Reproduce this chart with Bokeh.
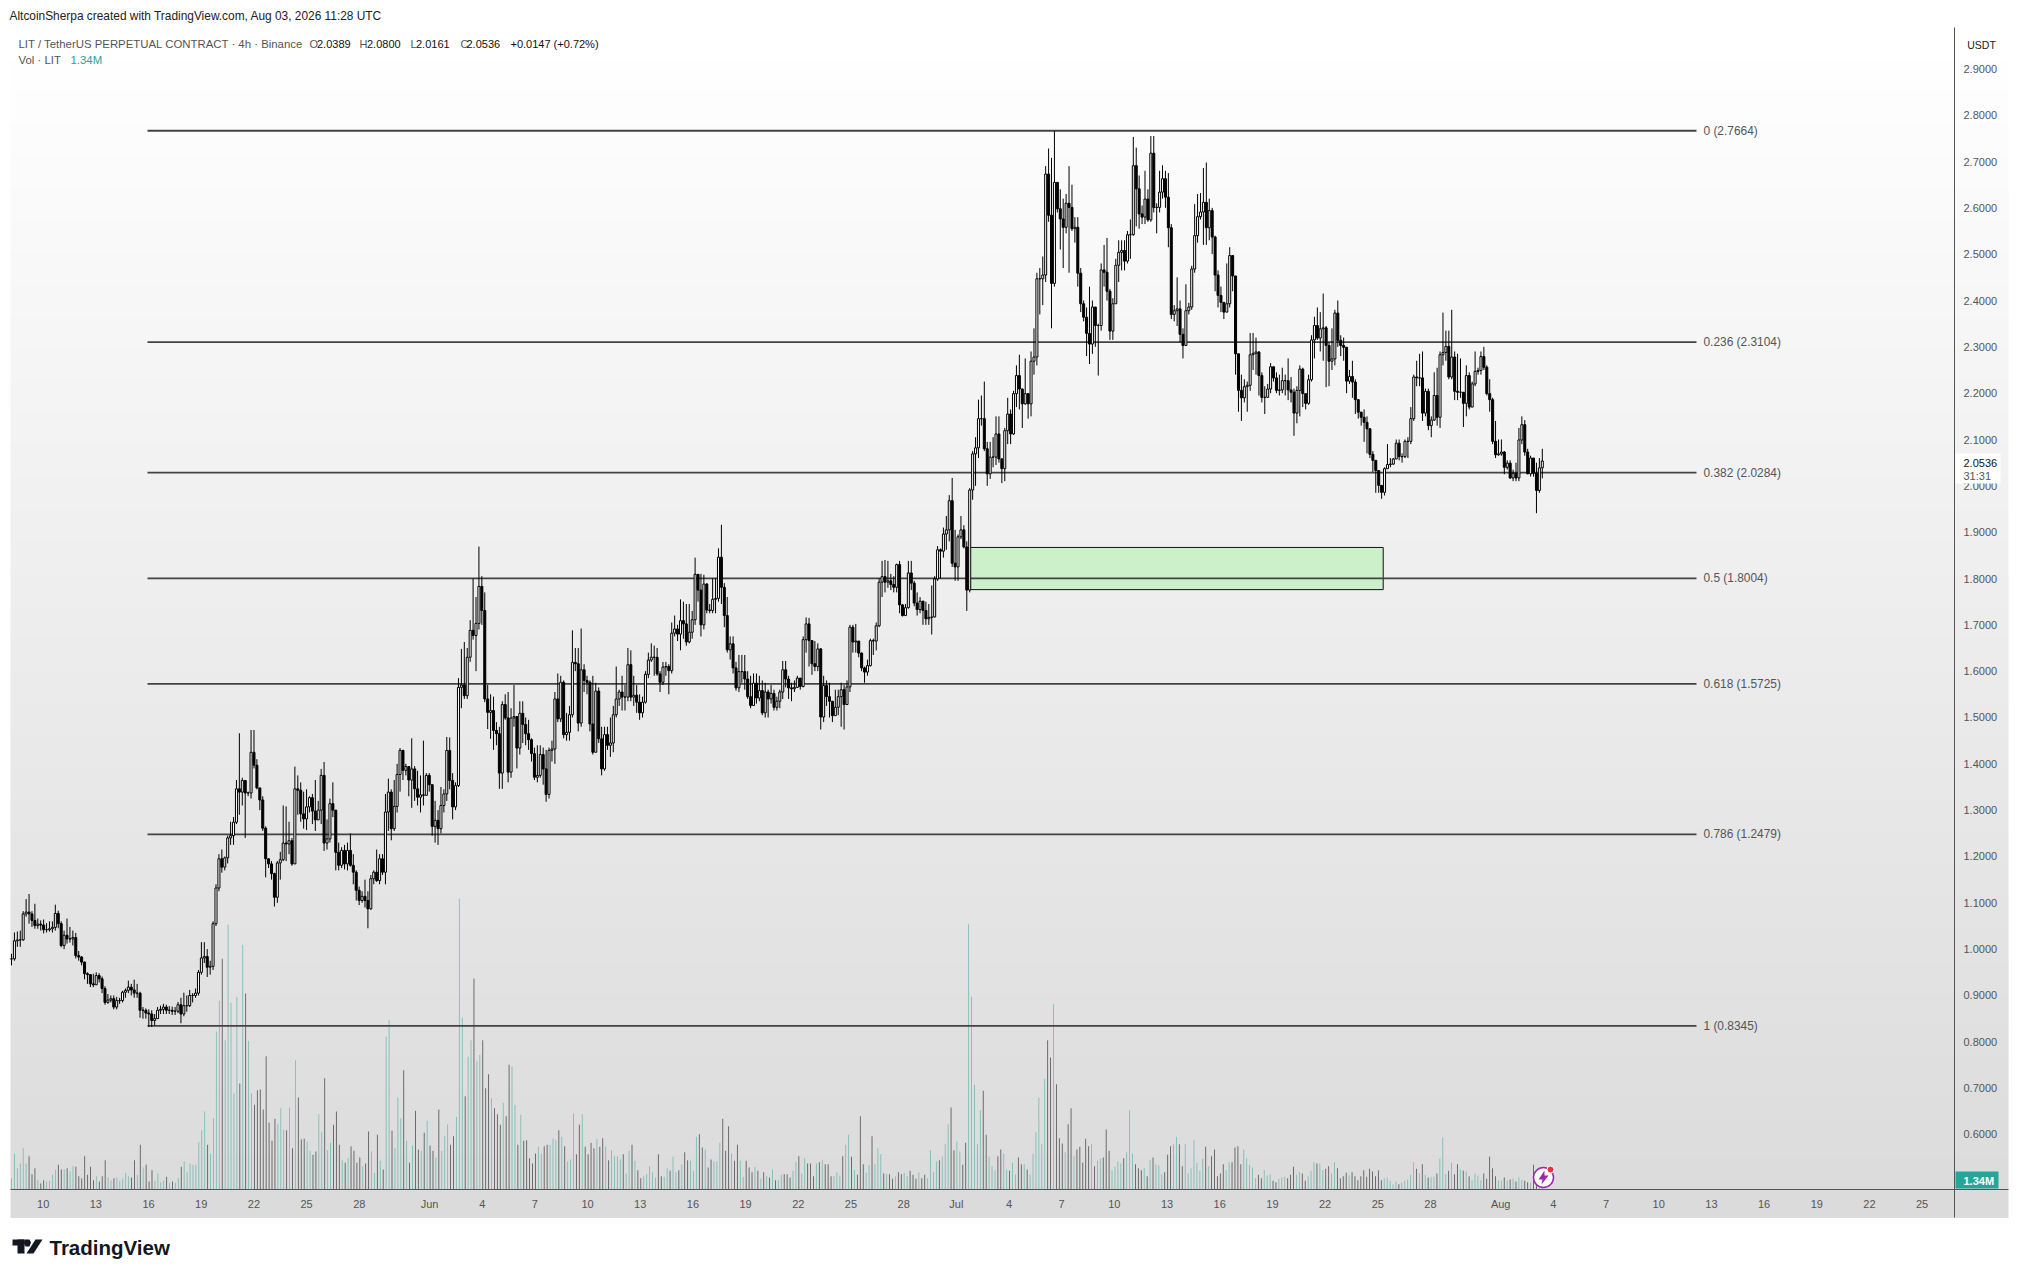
import numpy as np
from bokeh.plotting import figure
from bokeh.embed import file_html
from bokeh.resources import INLINE
from bokeh.core.properties import value
from bokeh.models import FixedTicker, NumeralTickFormatter, Range1d

close = [
 .979,1.018,1.020,1.020,1.076,
 1.080,1.076,1.062,1.051,1.054,1.052,
 1.042,1.042,1.044,1.047,1.077,1.055,
 1.008,1.030,1.022,1.022,1.025,.986,
 .983,.972,.947,.945,.925,.923,
 .943,.936,.915,.885,.890,.893,
 .875,.889,.889,.907,.911,.918,
 .912,.905,.905,.868,.868,.862,
 .860,.846,.850,.868,.870,.875,
 .868,.868,.866,.866,.880,.860,
 .878,.878,.900,.900,.905,.950,
 .981,.984,.961,.963,1.055,1.132,
 1.195,1.177,1.197,1.240,1.245,1.274,
 1.346,1.339,1.364,1.337,1.337,1.425,
 1.397,1.348,1.322,1.261,1.195,1.184,
 1.163,1.112,1.186,1.193,1.229,1.227,
 1.234,1.184,1.346,1.343,1.292,1.281,
 1.307,1.327,1.298,1.279,1.300,1.375,1.229,
 1.238,1.314,1.300,1.209,1.181,1.213,
 1.184,1.213,1.181,1.166,1.127,1.105,
 1.114,1.105,1.087,1.152,1.166,1.148,
 1.195,1.166,1.296,1.339,1.260,1.308,
 1.377,1.429,1.386,1.394,1.365,1.389,
 1.346,1.328,1.333,1.332,1.375,1.355,
 1.265,1.278,1.260,1.310,1.335,1.429,
 1.364,1.307,1.353,1.565,1.570,1.547,
 1.630,1.688,1.677,1.703,1.783,1.731,
 1.540,1.511,1.515,1.472,1.465,1.380,
 1.528,1.499,1.382,1.499,1.502,1.434,
 1.509,1.485,1.465,1.452,1.422,1.371,
 1.375,1.420,1.389,1.334,1.429,1.432,
 1.540,1.497,1.576,1.463,1.468,1.506,
 1.619,1.616,1.488,1.603,1.580,1.576,
 1.486,1.425,1.557,1.454,1.389,1.463,
 1.440,1.445,1.506,1.540,1.555,1.544,
 1.544,1.614,1.544,1.548,1.533,1.510,
 1.533,1.593,1.624,1.630,1.630,1.594,
 1.576,1.609,1.610,1.601,1.682,1.691,
 1.680,1.709,1.702,1.663,1.684,1.711,
 1.809,1.775,1.700,1.788,1.732,1.731,
 1.755,1.757,1.846,1.781,1.720,1.646,
 1.659,1.607,1.564,1.599,1.599,1.583,
 1.545,1.526,1.574,1.542,1.558,1.510,
 1.555,1.540,1.552,1.522,1.535,1.555,1.603,
 1.583,1.564,1.562,1.565,1.585,1.567,
 1.668,1.702,1.666,1.616,1.610,1.648,
 1.501,1.569,1.545,1.535,1.504,1.522,
 1.545,1.560,1.528,1.566,1.695,1.663,
 1.665,1.639,1.607,1.598,1.612,1.666,
 1.665,1.698,1.792,1.804,1.792,1.795,
 1.787,1.781,1.830,1.743,1.720,1.737,
 1.812,1.790,1.747,1.733,1.751,1.731,
 1.713,1.716,1.717,1.799,1.862,1.859,
 1.896,1.905,1.968,1.833,1.825,1.890,
 1.905,1.868,1.775,1.991,2.069,2.082,
 2.145,2.145,2.080,2.026,2.062,2.062,
 2.112,2.058,2.037,2.119,2.155,2.112,
 2.199,2.238,2.209,2.177,2.199,2.177,
 2.269,2.278,2.447,2.447,2.455,2.673,
 2.584,2.437,2.655,2.598,2.576,2.558,
 2.610,2.601,2.555,2.558,2.459,2.393,
 2.364,2.329,2.306,2.386,2.346,2.346,
 2.466,2.461,2.420,2.334,2.393,2.476,
 2.504,2.508,2.485,2.542,2.542,2.691,
 2.641,2.587,2.580,2.619,2.574,2.718,
 2.601,2.601,2.634,2.663,2.623,2.557,
 2.370,2.378,2.382,2.327,2.303,2.378,
 2.386,2.468,2.540,2.581,2.591,2.612,
 2.557,2.594,2.537,2.455,2.411,2.396,
 2.375,2.393,2.497,2.453,2.285,2.206,
 2.190,2.214,2.217,2.283,2.286,2.289,
 2.238,2.191,2.191,2.209,2.257,2.233,
 2.206,2.207,2.227,2.227,2.207,2.202,
 2.157,2.206,2.252,2.199,2.178,2.229,
 2.315,2.346,2.319,2.339,2.341,2.303,
 2.269,2.274,2.373,2.314,2.303,2.299,
 2.226,2.236,2.224,2.186,2.159,2.148,
 2.137,2.123,2.068,2.055,2.033,2.001,
 1.986,2.037,2.046,2.047,2.058,2.092,
 2.063,2.063,2.096,2.096,2.145,2.235,
 2.233,2.233,2.157,2.204,2.130,2.142,
 2.195,2.148,2.283,2.288,2.301,2.235,
 2.278,2.204,2.202,2.202,2.178,2.238,
 2.170,2.220,2.247,2.249,2.279,2.256,
 2.199,2.186,2.096,2.067,2.069,2.073,
 2.040,2.049,2.017,2.027,2.017,2.099,
 2.132,2.073,2.026,2.060,2.027,1.990,
 2.0389,2.0536,
]

high = [
 .990,1.036,1.038,1.040,1.082,
 1.108,1.119,1.082,1.098,1.066,1.062,
 1.064,1.056,1.060,1.060,1.096,1.083,
 1.060,1.040,1.066,1.048,1.040,1.035,
 .996,.985,.973,.950,.945,.947,
 .950,.948,.941,.920,.903,.900,
 .900,.897,.895,.910,.915,.932,
 .925,.934,.925,.908,.875,.872,
 .870,.868,.860,.875,.878,.882,
 .880,.877,.876,.875,.886,.895,
 .906,.900,.912,.905,.915,.955,
 1.015,1.015,1.000,.975,1.060,1.140,
 1.205,1.215,1.200,1.245,1.275,1.285,
 1.365,1.466,1.370,1.365,1.340,1.473,
 1.473,1.410,1.345,1.330,1.265,1.195,
 1.190,1.165,1.190,1.210,1.310,1.308,
 1.275,1.240,1.394,1.375,1.360,1.340,
 1.345,1.330,1.335,1.365,1.320,1.389,1.404,
 1.280,1.325,1.360,1.300,1.230,1.220,
 1.225,1.230,1.250,1.205,1.170,1.135,
 1.125,1.150,1.125,1.160,1.170,1.215,
 1.205,1.205,1.335,1.368,1.345,1.365,
 1.400,1.434,1.430,1.400,1.395,1.455,
 1.395,1.385,1.375,1.450,1.380,1.380,
 1.330,1.320,1.300,1.350,1.345,1.458,
 1.457,1.380,1.360,1.585,1.648,1.663,
 1.650,1.710,1.800,1.760,1.869,1.805,
 1.770,1.570,1.550,1.545,1.490,1.480,
 1.535,1.550,1.555,1.520,1.570,1.500,
 1.535,1.535,1.500,1.495,1.455,1.435,
 1.440,1.440,1.435,1.430,1.435,1.450,
 1.555,1.595,1.590,1.580,1.510,1.525,
 1.688,1.650,1.650,1.692,1.615,1.590,
 1.580,1.590,1.575,1.565,1.480,1.480,
 1.480,1.500,1.525,1.610,1.560,1.590,
 1.570,1.650,1.645,1.590,1.570,1.550,
 1.545,1.600,1.640,1.660,1.655,1.650,
 1.600,1.620,1.620,1.615,1.705,1.720,
 1.700,1.755,1.750,1.745,1.745,1.730,
 1.845,1.800,1.810,1.808,1.790,1.745,
 1.800,1.800,1.865,1.916,1.790,1.760,
 1.675,1.675,1.620,1.635,1.635,1.635,
 1.600,1.590,1.595,1.595,1.590,1.580,
 1.575,1.560,1.570,1.560,1.545,1.560,1.622,
 1.622,1.590,1.575,1.580,1.590,1.580,
 1.675,1.716,1.715,1.645,1.665,1.660,
 1.650,1.590,1.580,1.575,1.535,1.560,
 1.560,1.575,1.570,1.580,1.700,1.700,
 1.702,1.665,1.640,1.610,1.625,1.670,
 1.670,1.705,1.800,1.838,1.840,1.838,
 1.810,1.805,1.832,1.838,1.745,1.745,
 1.838,1.838,1.795,1.770,1.760,1.752,
 1.750,1.745,1.785,1.805,1.870,1.865,
 1.910,1.935,1.980,2.017,1.905,1.895,
 1.935,1.915,1.880,1.995,2.075,2.105,
 2.186,2.195,2.225,2.095,2.095,2.105,
 2.150,2.150,2.060,2.125,2.190,2.165,
 2.205,2.260,2.283,2.210,2.275,2.200,
 2.290,2.340,2.460,2.470,2.495,2.690,
 2.728,2.708,2.766,2.640,2.640,2.620,
 2.630,2.690,2.650,2.580,2.580,2.470,
 2.400,2.385,2.430,2.400,2.385,2.350,
 2.480,2.520,2.535,2.425,2.405,2.490,
 2.530,2.530,2.530,2.550,2.575,2.753,
 2.730,2.670,2.605,2.680,2.640,2.755,
 2.755,2.610,2.680,2.692,2.680,2.675,
 2.565,2.390,2.450,2.400,2.340,2.435,
 2.395,2.475,2.608,2.630,2.632,2.686,
 2.698,2.620,2.600,2.540,2.465,2.430,
 2.385,2.480,2.515,2.455,2.295,2.230,
 2.240,2.230,2.225,2.330,2.330,2.320,
 2.290,2.245,2.215,2.220,2.265,2.255,
 2.245,2.240,2.255,2.240,2.275,2.235,
 2.210,2.215,2.260,2.255,2.195,2.240,
 2.325,2.365,2.385,2.375,2.415,2.345,
 2.310,2.340,2.380,2.400,2.325,2.320,
 2.300,2.250,2.270,2.230,2.170,2.160,
 2.165,2.150,2.125,2.075,2.040,2.030,
 2.000,2.040,2.090,2.060,2.060,2.100,
 2.100,2.070,2.100,2.105,2.170,2.240,
 2.270,2.285,2.290,2.210,2.210,2.150,
 2.245,2.255,2.290,2.374,2.335,2.335,
 2.380,2.290,2.285,2.275,2.190,2.260,
 2.245,2.225,2.290,2.255,2.290,2.300,
 2.260,2.230,2.190,2.140,2.100,2.100,
 2.075,2.055,2.055,2.035,2.050,2.125,
 2.150,2.142,2.080,2.065,2.060,2.050,
 2.060,2.080,
]

low = [
 .965,.975,1.005,1.005,1.018,
 1.070,1.055,1.048,1.044,1.044,1.040,
 1.034,1.036,1.038,1.036,1.040,1.045,
 1.004,1.000,1.012,1.014,1.008,.980,
 .975,.965,.935,.925,.918,.918,
 .925,.928,.905,.880,.882,.885,
 .870,.870,.882,.885,.895,.905,
 .900,.895,.895,.852,.850,.850,
 .832,.832,.836,.850,.860,.860,
 .860,.860,.858,.858,.862,.840,
 .855,.865,.875,.885,.895,.900,
 .945,.970,.940,.945,.955,1.050,
 1.125,1.165,1.170,1.185,1.225,1.225,
 1.270,1.290,1.310,1.240,1.330,1.325,
 1.390,1.345,1.300,1.255,1.155,1.175,
 1.150,1.092,1.100,1.150,1.190,1.190,
 1.205,1.180,1.184,1.290,1.275,1.260,
 1.257,1.295,1.270,1.255,1.280,1.270,1.212,
 1.215,1.230,1.285,1.170,1.170,1.175,
 1.172,1.170,1.178,1.140,1.105,1.095,
 1.100,1.090,1.045,1.085,1.140,1.145,
 1.140,1.160,1.140,1.255,1.235,1.255,
 1.295,1.340,1.365,1.375,1.330,1.305,
 1.320,1.310,1.295,1.310,1.340,1.340,
 1.245,1.230,1.225,1.250,1.295,1.320,
 1.345,1.280,1.300,1.350,1.520,1.540,
 1.540,1.620,1.668,1.600,1.690,1.700,
 1.533,1.475,1.454,1.430,1.440,1.346,
 1.346,1.495,1.360,1.370,1.480,1.390,
 1.420,1.445,1.440,1.430,1.405,1.365,
 1.360,1.370,1.355,1.318,1.325,1.405,
 1.400,1.490,1.490,1.455,1.450,1.450,
 1.500,1.600,1.470,1.480,1.555,1.550,
 1.470,1.420,1.430,1.445,1.375,1.385,
 1.430,1.415,1.425,1.500,1.525,1.515,
 1.515,1.535,1.535,1.525,1.510,1.495,
 1.500,1.530,1.585,1.620,1.590,1.590,
 1.555,1.570,1.590,1.550,1.595,1.675,
 1.665,1.645,1.670,1.655,1.660,1.670,
 1.700,1.750,1.675,1.690,1.725,1.725,
 1.725,1.725,1.750,1.745,1.695,1.640,
 1.625,1.595,1.558,1.555,1.575,1.560,
 1.540,1.520,1.525,1.530,1.535,1.505,
 1.500,1.500,1.530,1.515,1.515,1.520,1.540,
 1.565,1.540,1.535,1.555,1.565,1.560,
 1.565,1.640,1.610,1.592,1.600,1.600,
 1.474,1.490,1.525,1.500,1.490,1.505,
 1.505,1.480,1.474,1.555,1.555,1.640,
 1.640,1.630,1.600,1.575,1.590,1.610,
 1.635,1.645,1.695,1.760,1.770,1.780,
 1.775,1.770,1.770,1.725,1.718,1.725,
 1.735,1.775,1.740,1.720,1.725,1.700,
 1.700,1.700,1.679,1.716,1.795,1.800,
 1.845,1.862,1.880,1.825,1.795,1.795,
 1.885,1.865,1.730,1.770,1.970,2.000,
 2.060,2.130,2.075,2.000,2.015,2.040,
 2.045,2.050,2.006,2.010,2.090,2.090,
 2.110,2.170,2.165,2.125,2.175,2.145,
 2.150,2.240,2.260,2.370,2.390,2.440,
 2.570,2.340,2.430,2.590,2.510,2.470,
 2.545,2.460,2.550,2.525,2.430,2.375,
 2.355,2.280,2.263,2.285,2.300,2.238,
 2.335,2.430,2.400,2.315,2.315,2.400,
 2.440,2.465,2.465,2.480,2.490,2.540,
 2.560,2.555,2.565,2.565,2.570,2.570,
 2.590,2.545,2.590,2.620,2.600,2.515,
 2.360,2.355,2.345,2.310,2.275,2.350,
 2.370,2.380,2.460,2.525,2.575,2.520,
 2.520,2.530,2.500,2.420,2.385,2.375,
 2.360,2.375,2.385,2.420,2.240,2.160,
 2.140,2.180,2.160,2.205,2.250,2.240,
 2.195,2.180,2.155,2.190,2.200,2.225,
 2.200,2.195,2.200,2.195,2.185,2.180,
 2.108,2.135,2.150,2.170,2.165,2.175,
 2.225,2.275,2.315,2.290,2.270,2.213,
 2.215,2.250,2.260,2.300,2.280,2.270,
 2.200,2.220,2.190,2.155,2.145,2.130,
 2.095,2.070,2.060,2.030,1.985,1.985,
 1.972,1.979,2.040,2.040,2.045,2.060,
 2.055,2.050,2.060,2.060,2.090,2.140,
 2.215,2.215,2.140,2.150,2.120,2.105,
 2.140,2.130,2.125,2.260,2.270,2.230,
 2.230,2.185,2.185,2.190,2.127,2.150,
 2.165,2.170,2.215,2.240,2.240,2.250,
 2.195,2.160,2.090,2.060,2.065,2.065,
 2.025,2.035,2.015,2.010,2.010,2.010,
 2.090,2.065,2.025,2.020,2.020,1.941,
 1.985,2.0161,
]

volume_may = [
 1.7,5.4,3.2,3.9,6.2,3.9,5.0,2.3,3.2,1.4,.9,1.4,1.2,1.3,2.2,3.0,3.7,3.0,3.0,3.2,2.7,3.5,3.4,2.0,1.7,5.0,2.2,3.4,1.4,2.0,
 1.2,2.0,4.4,1.8,1.4,1.7,1.8,1.3,1.7,2.5,2.0,1.8,4.4,2.2,6.7,3.3,3.7,1.2,2.9,1.3,2.4,1.1,1.3,1.9,1.0,1.2,1.0,1.7,3.4,4.2,
 2.6,3.9,3.7,3.7,7.1,8.9,11.7,6.7,5.4,10.7,23.7,28.3,34.6,22.4,39.7,28.0,14.4,28.9,15.9,36.7,29.4,22.3,14.4,12.7,14.9,15.0,12.0,20.0,10.0,7.3,
 10.6,9.8,12.2,9.0,8.9,12.3,6.2,19.4,13.8,7.5,7.6,7.2,5.8,5.2,5.7,11.3,8.6,16.7,5.9,7.0,9.7,11.7,6.7,4.4,4.0,4.7,6.5,5.8,4.0,4.8,
 3.5,3.9,8.7,5.7,2.5,8.2,4.3,3.0,22.9,25.4,8.8,6.2,13.8,10.7,17.9,7.3,4.0,6.6,11.8,6.0,5.8,8.5,10.3,6.6,5.8,4.8,12.0,5.8,8.0,9.8,
 6.7,8.0,10.9,43.6,25.8,14.0,19.9,22.4,31.6,19.2,20.2,22.4,
]
volume_jun = [
 15.2,17.3,13.7,12.2,11.3,9.7,13.0,11.0,18.7,18.4,12.7,6.7,11.2,7.3,7.4,4.7,3.9,5.4,6.4,5.4,6.5,6.7,6.7,7.6,7.4,8.9,7.9,6.5,4.2,4.5,
 11.4,5.3,9.7,11.3,6.4,5.3,7.0,6.2,7.6,6.4,7.7,6.4,4.4,5.9,5.0,5.0,4.5,5.3,2.4,5.8,6.7,4.3,2.9,1.7,2.0,2.3,3.5,2.6,1.8,5.3,
 2.0,1.9,3.2,2.8,4.9,2.6,2.9,3.8,5.6,4.4,4.3,2.8,7.9,8.3,6.3,6.0,3.3,4.5,4.2,4.2,7.0,10.6,5.8,9.5,5.4,4.3,6.7,4.3,1.9,4.3,
 3.3,2.6,3.4,2.8,1.6,2.6,2.0,1.8,3.0,1.4,1.4,2.2,2.3,2.3,1.8,2.8,4.1,5.0,2.4,4.7,3.9,3.9,2.0,3.9,4.1,4.4,3.8,3.8,2.0,2.0,
 2.6,2.1,5.0,6.7,8.2,4.9,2.9,2.2,11.0,3.8,2.5,3.7,8.0,3.8,6.2,5.3,2.4,2.3,2.3,1.6,2.0,2.6,2.3,2.5,2.0,2.8,2.2,1.6,2.6,1.7,
 2.2,1.7,5.9,2.6,4.2,4.4,4.9,6.8,9.8,12.3,5.9,7.2,5.7,3.7,7.0,39.8,28.9,15.7,6.8,
]
volume_jul = [
 11.9,14.8,8.2,4.9,3.5,2.9,5.0,6.0,5.4,3.0,2.8,4.0,2.3,4.8,3.8,3.8,3.0,2.2,5.4,8.6,13.8,6.8,16.6,22.4,19.8,27.8,15.8,7.7,6.9,5.6,
 9.8,12.2,5.0,6.0,6.4,4.0,7.6,6.5,6.8,3.5,4.3,4.6,4.8,9.0,5.8,2.9,3.4,4.2,3.9,4.7,5.6,11.9,5.4,3.8,3.2,2.9,3.2,2.0,4.4,4.8,
 3.8,3.6,2.3,2.6,5.2,6.5,6.8,7.9,6.8,3.5,6.8,2.4,3.2,7.4,4.0,2.8,4.6,6.4,3.5,5.0,6.0,2.0,2.4,3.8,2.9,4.1,4.1,6.3,6.5,3.8,
 6.0,4.7,3.7,3.3,1.7,2.2,1.7,2.9,2.1,2.3,1.3,1.1,1.6,1.8,1.9,1.7,2.2,3.4,2.2,2.6,2.4,1.3,2.0,2.8,4.1,3.9,3.9,2.9,3.1,3.5,
 2.4,4.1,3.2,1.7,2.0,2.5,2.1,2.6,2.0,1.4,2.0,2.9,1.9,3.1,2.7,2.0,2.9,1.4,1.7,1.8,1.3,.8,1.2,.8,1.0,1.3,1.5,2.2,4.1,3.1,
 2.4,3.8,2.2,1.8,1.9,1.9,2.4,4.6,7.8,2.3,2.8,4.0,2.3,3.8,3.0,2.8,2.7,2.0,1.4,2.4,2.1,1.4,2.4,1.6,4.9,3.2,2.0,1.4,1.3,1.8,
 1.4,1.5,1.7,1.2,1.8,1.4,1.3,1.1,1.0,3.7,.9,.8,1.34,
]

fib_ratio = ["0", "0.236", "0.382", "0.5", "0.618", "0.786", "1"]
fib_price = [2.7664, 2.3104, 2.0284, 1.8004, 1.5725, 1.2479, 0.8345]
price_ticks = [.6,.7,.8,.9,1.0,1.1,1.2,1.3,1.4,1.5,1.6,1.7,1.8,1.9,2.0,2.1,2.2,2.3,2.4,2.5,2.6,2.7,2.8,2.9]
date_ticks = [0,3,6,9,12,15,18,22,25,28,31,34,37,40,43,46,49,52,55,58,61,64,67,70,73,76,79,83,86,89,92,95,98,101,104,107]
date_labels = ["10","13","16","19","22","25","28","Jun","4","7","10","13","16","19","22","25","28","Jul",
               "4","7","10","13","16","19","22","25","28","Aug","4","7","10","13","16","19","22","25"]
zone_left, zone_right, zone_top, zone_bottom = 52.69, 76.31, 1.867, 1.776
fib_left, fib_right, fib_text_x = 5.94, 94.15, 94.55

GRAY = "#555555"
FONT = "Liberation Sans"
W, H = 2010, 1270

def X(px):  # page pixel to day number
    return (px - 42.7) / 17.56
def Y(py):  # page pixel to price
    return 1.8 + (578 - py) / 463.3

volume = volume_may + volume_jun + volume_jul
n = min(len(close), len(high), len(low))
c = np.array(close[:n])
o = np.r_[c[0], c[:-1]]
h = np.maximum(np.array(high[:n]), np.maximum(o, c))
l = np.minimum(np.array(low[:n]), np.minimum(o, c))
d = np.linspace(-1.805, 85.37, n)
vd = np.linspace(-1.805, 85.37, len(volume))
up = c >= o

p = figure(width=W, height=H, output_backend="svg", toolbar_location=None,
           x_range=Range1d(X(0), X(W)), y_range=Range1d(Y(H), Y(0)),
           y_axis_location="right", min_border=0)
p.extra_y_ranges = {"vol": Range1d(-81 * 0.15, 1189 * 0.15)}
p.grid.visible = False
p.outline_line_color = None
p.background_fill_color = "white"
p.border_fill_color = "white"

def box(x0, y0, x1, y1, color, level="glyph"):
    p.quad(left=[X(x0)], right=[X(x1)], top=[Y(y0)], bottom=[Y(y1)],
           fill_color=color, line_color=None, level=level)

def label(x, y, text, color=GRAY, size=11, bold=False, align="left"):
    p.text(x=[X(x)], y=[Y(y)], text=[text], text_color=color, text_font=value(FONT),
           text_font_size=f"{size}px", text_font_style="bold" if bold else "normal",
           text_align=align, text_baseline="middle", level="overlay")

def poly(pts, color):
    p.patch(x=[X(a) for a, _ in pts], y=[Y(b) for _, b in pts],
            fill_color=color, line_color=None, level="overlay")

# background gradient, one band per grey level
levels = 37
for i in range(levels):
    v = 255 - i
    y0 = 27 + (1217 - 27) * i / levels
    y1 = 27 + (1217 - 27) * (i + 1) / levels
    box(10, y0, 2008, y1 + 0.5, f"#{v:02x}{v:02x}{v:02x}")

# volume
vi = np.clip(np.round((vd + 1.805) / (87.175) * (n - 1)).astype(int), 0, n - 1)
p.vbar(x=vd, top=volume, bottom=0, width=0.05, y_range_name="vol",
       fill_color=["#7dbdb5" if up[i] else "#5c5c5c" for i in vi], line_color=None)

# zone and fib levels
p.quad(left=[zone_left], right=[zone_right], top=[zone_top], bottom=[zone_bottom],
       fill_color="#cbf0ca", line_color="#111111", line_width=1)
p.segment(x0=[fib_left]*7, x1=[fib_right]*7, y0=fib_price, y1=fib_price,
          line_color="#434343", line_width=1.8)
p.text(x=[fib_text_x]*7, y=fib_price,
       text=[f"{r} ({v:.4f})" for r, v in zip(fib_ratio, fib_price)],
       text_color=GRAY, text_font=value(FONT), text_font_size="11.9px", text_baseline="middle")

# candles
p.segment(x0=d, x1=d, y0=l, y1=h, line_color="#000000", line_width=1)
p.vbar(x=d, top=np.maximum(o, c), bottom=np.minimum(o, c), width=0.115,
       fill_color=["#ffffff" if u else "#000000" for u in up], line_color="#000000", line_width=1)

# axes
p.yaxis.ticker = FixedTicker(ticks=price_ticks)
p.yaxis.formatter = NumeralTickFormatter(format="0.0000")
p.yaxis.fixed_location = X(1954)
p.yaxis.bounds = (Y(1217), Y(27))
p.xaxis.ticker = FixedTicker(ticks=date_ticks)
p.xaxis.major_label_overrides = {t: s for t, s in zip(date_ticks, date_labels)}
p.xaxis.fixed_location = Y(1189)
p.xaxis.bounds = (X(10), X(2008))
for ax, standoff in ((p.yaxis, 9), (p.xaxis, 8)):
    ax.major_tick_line_color = None
    ax.minor_tick_line_color = None
    ax.major_tick_in = 0
    ax.major_tick_out = 0
    ax.axis_line_color = "#555555"
    ax.axis_line_width = 1
    ax.major_label_text_color = GRAY
    ax.major_label_text_font = FONT
    ax.major_label_text_font_size = "11px"
    ax.major_label_standoff = standoff

# right-axis badges
box(1955, 453, 2000, 483, "#ffffff", level="overlay")
label(1963, 462, "2.0536", "#111111", 11)
label(1963, 475, "31:31", GRAY, 11)
box(1955, 1171, 1998, 1188, "#26a69a", level="overlay")
label(1963, 1180, "1.34M", "#ffffff", 11, bold=True)
label(1981, 44, "USDT", "#222222", 10.5, align="center")

# header
label(9, 15, "AltcoinSherpa created with TradingView.com, Aug 03, 2026 11:28 UTC", "#222222", 11.9)
label(18, 43, "LIT / TetherUS PERPETUAL CONTRACT · 4h · Binance", GRAY, 11.4)
for x, t, col in [(309, "O", GRAY), (316.5, "2.0389", "#111111"), (359, "H", GRAY), (366.5, "2.0800", "#111111"),
                  (410, "L", GRAY), (415.5, "2.0161", "#111111"), (460, "C", GRAY), (466, "2.0536", "#111111"),
                  (510, "+0.0147 (+0.72%)", "#111111")]:
    label(x, 43, t, col, 11)
label(18, 59, "Vol · LIT", GRAY, 11.4)
label(70, 59, "1.34M", "#26a69a", 11.4)

# footer logo
box(12, 1239, 24, 1245, "#131722", level="overlay")
box(17, 1239, 24, 1253, "#131722", level="overlay")
poly([(35, 1239), (42, 1239), (33, 1253), (26, 1253)], "#131722")
poly([(24.5, 1239), (29, 1239), (30.5, 1242), (29, 1246), (25, 1246), (23.5, 1242)], "#131722")
label(49, 1247, "TradingView", "#131722", 20.5, bold=True)

# news icon
p.scatter(x=[X(1543)], y=[Y(1177)], size=20, marker="circle", fill_color="#ffffff", line_color="#9c27b0",
          line_width=1.5, level="overlay")
poly([(1544, 1170), (1538, 1179), (1542, 1179), (1541, 1184), (1548, 1175), (1544, 1175)], "#9c27b0")
p.scatter(x=[X(1550)], y=[Y(1169)], size=7, marker="circle", fill_color="#e53935", line_color="#ffffff",
          level="overlay")

open("out.html", "w").write(file_html(p, INLINE))
